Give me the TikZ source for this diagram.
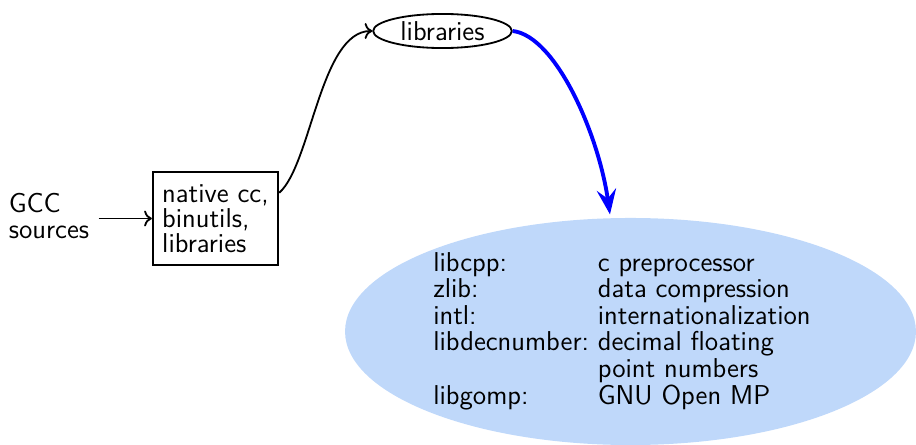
\documentclass[tikz,border=0pt]{standalone}
\usepackage{fontspec}
\usetikzlibrary{shapes.geometric,arrows.meta}
\definecolor{ellfill}{RGB}{191,216,250}
\begin{document}
\begin{tikzpicture}[x=0.44pt,y=-0.44pt,
  every node/.style={font=\sffamily\fontsize{12}{11.1}\selectfont},
  plainbox/.style={draw, thick, align=left, inner sep=4.2pt, minimum height=41pt},
  libell/.style={draw, thick, ellipse, minimum width=61pt, minimum height=15pt, inner sep=1pt},
  bigell/.style={ellipse, fill=ellfill, minimum width=251.2pt, minimum height=99.9pt, inner sep=0pt},
  tabtext/.style={inner sep=0pt, font=\sffamily\fontsize{12}{11}\selectfont},
  srctext/.style={align=left, inner sep=1pt},
  blk/.style={->, thick},
  blu/.style={-{Stealth[length=11pt,width=8.5pt,inset=4pt]}, blue, line width=1.7pt}]
\useasboundingbox (0,0) rectangle (916,445);
\node[srctext] (gcc) at (49,216) {GCC\\sources};
\node[plainbox] (box) at (215.5,218.5) {native cc,\\binutils,\\libraries};
\node[libell] (lib) at (442.5,31) {libraries};
\node[bigell] (big) at (630.5,331.5) {};
\node[tabtext] (tab) at (622,332) {%
  \begin{tabular}{@{}l@{\ }l@{}}
  libcpp: & c preprocessor\\
  zlib: & data compression\\
  intl: & internationalization\\
  libdecnumber: & decimal floating\\
   & point numbers\\
  libgomp: & GNU Open MP
  \end{tabular}};
\draw[blk, shorten <=3pt] (gcc.east |- box.west) -- (box.west);
\draw[blk] (box.22) .. controls +(32,-28) and +(-52,0) .. (lib.west);
\draw[blu, shorten >=1.5pt] (lib.east) .. controls +(43,5) and +(-12,-84) .. (big.100);
\end{tikzpicture}
\end{document}
